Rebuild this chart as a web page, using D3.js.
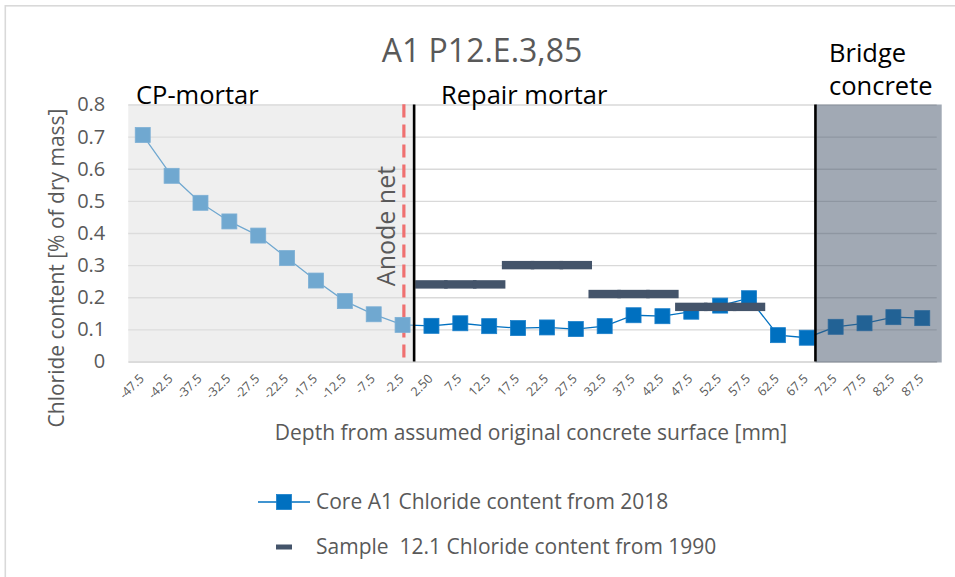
<!DOCTYPE html>
<html>
<head>
<meta charset="utf-8">
<script src="https://cdn.jsdelivr.net/npm/d3@7"></script>
<style>
  html, body { margin: 0; padding: 0; background: #ffffff; }
  svg { display: block; font-family: "Open Sans", sans-serif; }
</style>
</head>
<body>
<svg id="chart" width="955" height="577"></svg>
<script>
// Depth categories [mm] (negative = CP-mortar, positive = into the repair mortar / concrete)
const categories = [
  "-47.5", "-42.5", "-37.5", "-32.5", "-27.5", "-22.5", "-17.5", "-12.5", "-7.5", "-2.5",
  "2.50", "7.5", "12.5", "17.5", "22.5", "27.5", "32.5", "37.5", "42.5", "47.5",
  "52.5", "57.5", "62.5", "67.5", "72.5", "77.5", "82.5", "87.5"
];

// Core A1, chloride content measured 2018 [% of dry mass]
const core2018 = [
  0.705, 0.578, 0.494, 0.436, 0.392, 0.322, 0.252, 0.188, 0.147, 0.114,
  0.111, 0.119, 0.110, 0.104, 0.106, 0.101, 0.110, 0.144, 0.141, 0.155,
  0.174, 0.197, 0.082, 0.074, 0.108, 0.119, 0.138, 0.135
];

// Sample 12.1, chloride content measured 1990 (one value per depth step)
const sample1990Depths = ["2.50", "7.5", "12.5", "17.5", "22.5", "27.5",
                          "32.5", "37.5", "42.5", "47.5", "52.5", "57.5"];
const sample1990 = [0.24, 0.24, 0.24, 0.30, 0.30, 0.30,
                    0.21, 0.21, 0.21, 0.17, 0.17, 0.17];

const yTicks = [0, 0.1, 0.2, 0.3, 0.4, 0.5, 0.6, 0.7, 0.8];

const title = "A1 P12.E.3,85";
const legendLabels = ["Core A1 Chloride content from 2018",
                      "Sample  12.1 Chloride content from 1990"];

// ---------------------------------------------------------------
const svg = d3.select("#chart");
const W = 955, H = 577;
const plot = { left: 128.3, right: 936.7, top: 104.5, bottom: 361.5 };

const TEXT = "#595959";
const BLUE = "#0070c0";
const SLATE = "#44546a";

// outer chart frame
svg.append("rect")
  .attr("x", 5.3).attr("y", 5.8)
  .attr("width", W + 20).attr("height", H + 20)
  .attr("fill", "none").attr("stroke", "#d9d9d9").attr("stroke-width", 1.6);

const x = d3.scaleBand().domain(categories).range([plot.left, plot.right]);
const y = d3.scaleLinear().domain([0, 0.8]).range([plot.bottom, plot.top]);
const bw = x.bandwidth();
const cx = d => x(d) + bw / 2;

// horizontal gridlines
svg.append("g")
  .attr("transform", `translate(${plot.left},0)`)
  .call(d3.axisLeft(y).tickValues(yTicks).tickSize(-(plot.right - plot.left)).tickFormat(""))
  .call(g => g.select(".domain").remove())
  .call(g => g.selectAll("line").attr("stroke", "#d9d9d9").attr("stroke-width", 1.3));

// y-axis tick labels
svg.append("g")
  .attr("transform", `translate(${plot.left},0)`)
  .call(d3.axisLeft(y).tickValues(yTicks).tickSize(0).tickPadding(23)
        .tickFormat(d => d === 0 ? "0" : d3.format(".1f")(d)))
  .call(g => g.select(".domain").remove())
  .call(g => g.selectAll("text")
    .attr("fill", TEXT).attr("font-size", 20)
    .attr("font-family", "'Open Sans', sans-serif"));

// x-axis: baseline + rotated depth labels
svg.append("g")
  .attr("transform", `translate(0,${plot.bottom})`)
  .call(d3.axisBottom(x).tickSize(0))
  .call(g => g.select(".domain").attr("stroke", "#d9d9d9").attr("stroke-width", 1.6))
  .call(g => g.selectAll("text")
    .attr("fill", TEXT).attr("font-size", 12.5)
    .attr("font-family", "'Open Sans', sans-serif")
    .attr("text-anchor", "end")
    .attr("x", 0).attr("y", 0).attr("dy", 0)
    .attr("transform", "translate(2,18) rotate(-45)"));

// anode net position (red dashed line at the -2.5 mm step)
const anodeX = cx("-2.5") + 1.3;
svg.append("line")
  .attr("x1", anodeX).attr("x2", anodeX)
  .attr("y1", plot.top).attr("y2", plot.bottom + 1.5)
  .attr("stroke", "#ff0000").attr("stroke-width", 3.2)
  .attr("stroke-dasharray", "13,7");

// 2018 core profile
const line = d3.line().x((d, i) => cx(categories[i])).y(d => y(d));
svg.append("path")
  .datum(core2018)
  .attr("d", line)
  .attr("fill", "none").attr("stroke", BLUE).attr("stroke-width", 1.3);

const MS = 15;
svg.append("g").selectAll("rect")
  .data(core2018)
  .join("rect")
  .attr("x", (d, i) => cx(categories[i]) - MS / 2)
  .attr("y", d => y(d) - MS / 2)
  .attr("width", MS).attr("height", MS)
  .attr("fill", BLUE).attr("stroke", "#1a7fca").attr("stroke-width", 0.8);

// layer boundaries
const repairStart = x("-2.5") + bw * 0.9;
const concreteStart = x("67.5") + bw * 0.8;

// translucent shading: CP-mortar (light) and bridge concrete (dark)
svg.append("rect")
  .attr("x", plot.left).attr("y", plot.top)
  .attr("width", repairStart - plot.left).attr("height", plot.bottom - plot.top)
  .attr("fill", "rgb(224,224,224)").attr("fill-opacity", 0.5);

svg.append("rect")
  .attr("x", concreteStart).attr("y", plot.top)
  .attr("width", plot.right + 5 - concreteStart).attr("height", plot.bottom - plot.top + 1)
  .attr("fill", SLATE).attr("fill-opacity", 0.5);

// 1990 sample values, drawn as wide dash markers
svg.append("g").selectAll("rect")
  .data(sample1990)
  .join("rect")
  .attr("x", (d, i) => cx(sample1990Depths[i]) - 16.2)
  .attr("y", d => y(d) - 4.2)
  .attr("width", 32.4).attr("height", 8.4)
  .attr("fill", SLATE);

// solid boundary lines
[repairStart, concreteStart].forEach(bx => {
  svg.append("line")
    .attr("x1", bx).attr("x2", bx)
    .attr("y1", plot.top).attr("y2", plot.bottom)
    .attr("stroke", "#000000").attr("stroke-width", 2.6);
});

// titles and labels
svg.append("text")
  .attr("x", 482).attr("y", 62)
  .attr("text-anchor", "middle")
  .attr("fill", TEXT).attr("font-size", 32)
  .text(title);

svg.append("text")
  .attr("transform", "translate(64,268) rotate(-90)")
  .attr("text-anchor", "middle")
  .attr("fill", TEXT).attr("font-size", 21)
  .text("Chloride content [% of dry mass]");

svg.append("text")
  .attr("x", 531).attr("y", 440)
  .attr("text-anchor", "middle")
  .attr("fill", TEXT).attr("font-size", 21)
  .text("Depth from assumed original concrete surface [mm]");

svg.append("text")
  .attr("transform", `translate(${anodeX - 9},226) rotate(-90)`)
  .attr("text-anchor", "middle")
  .attr("fill", TEXT).attr("font-size", 25)
  .text("Anode net");

const sectionFont = 25.5;
svg.append("text").attr("x", 136).attr("y", 104)
  .attr("font-size", sectionFont).attr("fill", "#000").text("CP-mortar");
svg.append("text").attr("x", 441).attr("y", 104)
  .attr("font-size", sectionFont).attr("fill", "#000").text("Repair mortar");
svg.append("text").attr("x", 829).attr("y", 62)
  .attr("font-size", sectionFont).attr("fill", "#000").text("Bridge");
svg.append("text").attr("x", 829).attr("y", 95)
  .attr("font-size", sectionFont).attr("fill", "#000").text("concrete");

// legend
const leg = svg.append("g");
leg.append("line")
  .attr("x1", 258).attr("x2", 310).attr("y1", 502).attr("y2", 502)
  .attr("stroke", BLUE).attr("stroke-width", 1.3);
leg.append("rect")
  .attr("x", 284 - MS / 2).attr("y", 502 - MS / 2)
  .attr("width", MS).attr("height", MS)
  .attr("fill", BLUE).attr("stroke", "#1a7fca").attr("stroke-width", 0.8);
leg.append("rect")
  .attr("x", 276).attr("y", 544.5).attr("width", 16).attr("height", 5)
  .attr("fill", SLATE);

leg.selectAll("text")
  .data(legendLabels)
  .join("text")
  .attr("x", 316)
  .attr("y", (d, i) => [502, 547][i])
  .attr("dy", "0.35em")
  .attr("fill", TEXT).attr("font-size", 21)
  .style("white-space", "pre")
  .attr("xml:space", "preserve")
  .text(d => d);
</script>
</body>
</html>
